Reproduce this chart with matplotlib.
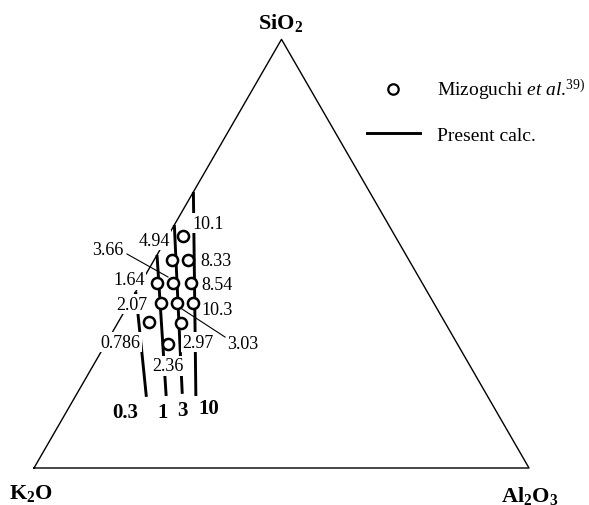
import numpy as np
import matplotlib
matplotlib.use('Agg')
import matplotlib.pyplot as plt

plt.rcParams['font.family'] = 'Liberation Serif'
plt.rcParams['mathtext.fontset'] = 'custom'
plt.rcParams['mathtext.rm'] = 'Liberation Serif'
plt.rcParams['mathtext.it'] = 'Liberation Serif:italic'
plt.rcParams['mathtext.bf'] = 'Liberation Serif:bold'

# Mizoguchi et al. compositions (mole fractions, K2O = rest)
mizo_sio2 = [0.541, 0.485, 0.485, 0.432, 0.432, 0.432, 0.385, 0.385, 0.385, 0.341, 0.338, 0.289]
mizo_al2o3 = [0.031, 0.036, 0.068, 0.033, 0.065, 0.101, 0.064, 0.097, 0.129, 0.062, 0.128, 0.126]

# present calc. lines: start on the K2O-SiO2 edge, end near SiO2 ~ 0.17
calc_labels = ['0.3', '1', '3', '10']
calc_sio2_start = [0.411, 0.497, 0.567, 0.644]
calc_al2o3_start = [0.0, 0.0, 0.0, 0.0]
calc_sio2_end = [0.166, 0.168, 0.173, 0.168]
calc_al2o3_end = [0.144, 0.183, 0.213, 0.243]

# measured values written beside the points
value_labels = ['10.1', '8.33', '8.54', '10.3', '3.03', '2.97', '2.36',
                '0.786', '2.07', '1.64', '3.66', '4.94']


def tern(sio2, al2o3):
    sio2 = np.asarray(sio2, dtype=float)
    al2o3 = np.asarray(al2o3, dtype=float)
    return al2o3 + sio2 / 2, sio2 * np.sqrt(3) / 2


fig = plt.figure(figsize=(5.89, 5.06), dpi=100)
ax = fig.add_axes([0, 0, 1, 1])
ax.set_xlim(-34 / 495, 555 / 495)
ax.set_ylim(-37 / 495, 469 / 495)
ax.axis('off')

# triangle
tx, ty = tern([0, 0, 1, 0], [0, 1, 0, 0])
ax.plot(tx, ty, color='black', lw=1.0, zorder=1)

# calc lines
for s0, a0, s1, a1 in zip(calc_sio2_start, calc_al2o3_start, calc_sio2_end, calc_al2o3_end):
    lx, ly = tern([s0, s1], [a0, a1])
    ax.plot(lx, ly, color='black', lw=2.1, solid_capstyle='butt', zorder=2)

# points
px, py = tern(mizo_sio2, mizo_al2o3)
ax.plot(px, py, 'o', ms=8, mfc='white', mec='black', mew=1.8, ls='none', zorder=5)

# leader lines
ax.plot([0.1879, 0.2707], [0.4323, 0.3859], color='black', lw=0.8, zorder=1)
ax.plot([0.299, 0.3859], [0.3212, 0.2646], color='black', lw=0.8, zorder=1)

# value labels (white box hides lines behind them)
value_pos = [(0.3515, 0.4949), (0.3677, 0.4182), (0.3697, 0.3717), (0.3697, 0.3192),
             (0.4222, 0.2525), (0.3313, 0.2545), (0.2707, 0.2061), (0.1737, 0.2545),
             (0.198, 0.3313), (0.1919, 0.3798), (0.1495, 0.4424), (0.2424, 0.4606)]
for lab, (x, y) in zip(value_labels, value_pos):
    ax.text(x, y, lab, fontsize=13, ha='center', va='center', zorder=3,
            bbox=dict(fc='white', ec='none', pad=1.2))

# line labels
calc_pos = [(0.1838, 0.1131), (0.2606, 0.1131), (0.299, 0.1172), (0.3535, 0.1212)]
for lab, (x, y) in zip(calc_labels, calc_pos):
    ax.text(x, y, lab, fontsize=15, fontweight='bold', ha='center', va='center')

# vertex labels
ax.text(0.499, 0.901, r'$\mathbf{SiO_2}$', fontsize=16, ha='center', va='center')
ax.text(-0.006, -0.0505, r'$\mathbf{K_2O}$', fontsize=16, ha='center', va='center')
ax.text(1.002, -0.0545, r'$\mathbf{Al_2O_3}$', fontsize=16, ha='center', va='center')

# legend
h1, = ax.plot([], [], 'o', ms=7.5, mfc='white', mec='black', mew=1.6, ls='none')
h2, = ax.plot([], [], color='black', lw=2.1)
ax.legend([h1, h2], [r'Mizoguchi $\mathit{et}$ $\mathit{al}$.$^{39)}$', 'Present calc.'],
          loc='upper left', bbox_to_anchor=(367 / 589, 1 - 78 / 506),
          bbox_transform=fig.transFigure, frameon=False, fontsize=14,
          borderpad=0, borderaxespad=0, handlelength=2.7, handletextpad=0.9,
          labelspacing=1.25)

plt.savefig('out.png', dpi=100)
plt.close()
